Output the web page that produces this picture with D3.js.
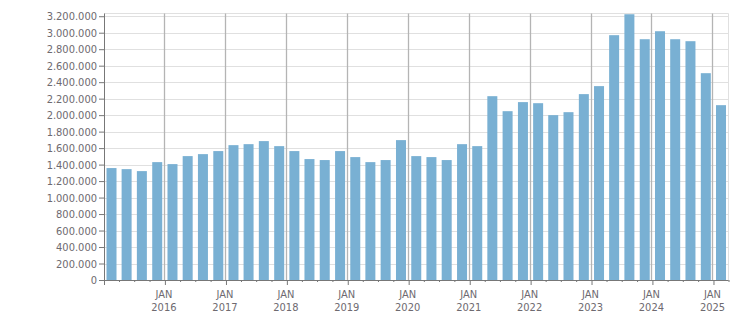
<!DOCTYPE html>
<html lang="en">
    <head>
        <meta charset="UTF-8">
        <script src="https://cdn.jsdelivr.net/npm/d3@7"></script>
        <title>Quarterly bars</title>
        <style>
            body { margin: 0; background: #fff; }
            .lbl { font-family: Tahoma, "DejaVu Sans Condensed", "DejaVu Sans", sans-serif; font-size: 11px; fill: #6e6a70; }
        </style>
    </head>
    <body>
        <svg id="canvas" width="751" height="313"></svg>

        <script>
            // quarter starts, Q1 2015 .. Q1 2025
            var quarters = [
                "2015-01", "2015-04", "2015-07", "2015-10",
                "2016-01", "2016-04", "2016-07", "2016-10",
                "2017-01", "2017-04", "2017-07", "2017-10",
                "2018-01", "2018-04", "2018-07", "2018-10",
                "2019-01", "2019-04", "2019-07", "2019-10",
                "2020-01", "2020-04", "2020-07", "2020-10",
                "2021-01", "2021-04", "2021-07", "2021-10",
                "2022-01", "2022-04", "2022-07", "2022-10",
                "2023-01", "2023-04", "2023-07", "2023-10",
                "2024-01", "2024-04", "2024-07", "2024-10",
                "2025-01"
            ];
            var values = [
                1358000, 1345000, 1321000, 1430000,
                1406000, 1503000, 1527000, 1564000,
                1636000, 1648000, 1685000, 1624000,
                1564000, 1467000, 1455000, 1564000,
                1491000, 1430000, 1455000, 1697000,
                1503000, 1491000, 1455000, 1648000,
                1624000, 2230000, 2048000, 2158000,
                2145000, 2000000, 2036000, 2255000,
                2352000, 2970000, 3224000, 2921000,
                3018000, 2921000, 2897000, 2509000,
                2121000
            ];
            var yTicks = [0, 200000, 400000, 600000, 800000, 1000000, 1200000, 1400000, 1600000,
                          1800000, 2000000, 2200000, 2400000, 2600000, 2800000, 3000000, 3200000];

            var svg = d3.select("svg#canvas"),
                pLeft = 104, pRight = 728.5, pTop = 13.5, pBottom = 280,
                parse = d3.timeParse("%Y-%m"),
                locale = d3.formatLocale({decimal: ",", thousands: ".", grouping: [3], currency: ["", ""]}),
                fmt = locale.format(",d");

            var x = d3.scaleTime()
                      .domain([parse("2015-01"), parse("2025-04")])
                      .range([pLeft, pRight]);
            var y = d3.scaleLinear()
                      .domain([0, 3233000])
                      .range([pBottom, pTop]);

            // horizontal grid
            svg.append("g").selectAll("line").data(yTicks).join("line")
                .attr("x1", pLeft).attr("x2", pRight)
                .attr("y1", function(d) { return Math.round(y(d)) + 0.5; })
                .attr("y2", function(d) { return Math.round(y(d)) + 0.5; })
                .attr("stroke", "#e0e0e0");
            svg.append("line").attr("x1", pLeft).attr("x2", pRight).attr("y1", 13.5).attr("y2", 13.5).attr("stroke", "#e0e0e0");
            svg.append("line").attr("x1", pRight).attr("x2", pRight).attr("y1", pTop).attr("y2", pBottom).attr("stroke", "#e0e0e0");

            // yearly grid
            var years = x.ticks(d3.timeYear.every(1)).filter(function(d) { return d.getFullYear() > 2015; });
            svg.append("g").selectAll("line").data(years).join("line")
                .attr("x1", function(d) { return Math.round(x(d)) - 0.5; })
                .attr("x2", function(d) { return Math.round(x(d)) - 0.5; })
                .attr("y1", pTop).attr("y2", pBottom)
                .attr("stroke", "#b4b4b4").attr("stroke-width", 1.3);

            // bars, centred mid quarter
            var bw = 10;
            svg.append("g").selectAll("rect").data(values).join("rect")
                .attr("x", function(d, i) {
                    var s = parse(quarters[i]), e = d3.timeMonth.offset(s, 3);
                    return (x(s) + x(e)) / 2 - bw / 2;
                })
                .attr("y", function(d) { return y(d); })
                .attr("width", bw)
                .attr("height", function(d) { return pBottom - y(d); })
                .attr("fill", "#79b0d3");

            // y axis
            var yAxis = svg.append("g").attr("transform", "translate(" + pLeft + ",0)")
                .call(d3.axisLeft(y).tickValues(yTicks).tickFormat(fmt).tickSize(5).tickPadding(2));
            yAxis.select(".domain").attr("stroke", "#777").attr("d", "M0.5," + pTop + "V" + pBottom);
            yAxis.selectAll(".tick line").attr("stroke", "#777");
            yAxis.selectAll(".tick text").attr("class", "lbl").attr("font-family", null).attr("font-size", null);
            yAxis.attr("font-family", null).attr("font-size", null);

            // x axis
            var xAxis = svg.append("g").attr("transform", "translate(0," + pBottom + ")")
                .call(d3.axisBottom(x).ticks(d3.timeMonth.every(3)).tickFormat("").tickSize(2));
            xAxis.select(".domain").attr("stroke", "#777").attr("d", "M" + pLeft + ",0.5H" + pRight);
            xAxis.selectAll(".tick line").attr("stroke", "#777")
                .attr("y2", function(d) { return d.getMonth() === 0 ? 5 : 2; });

            var labels = svg.append("g");
            labels.selectAll("text.m").data(years).join("text")
                .attr("class", "lbl").attr("text-anchor", "middle")
                .attr("x", function(d) { return x(d) - 1; }).attr("y", 298)
                .text("JAN");
            labels.selectAll("text.yr").data(years).join("text")
                .attr("class", "lbl").attr("text-anchor", "middle")
                .attr("x", function(d) { return x(d) - 1; }).attr("y", 311)
                .text(function(d) { return d.getFullYear(); });
        </script>
    </body>
</html>
